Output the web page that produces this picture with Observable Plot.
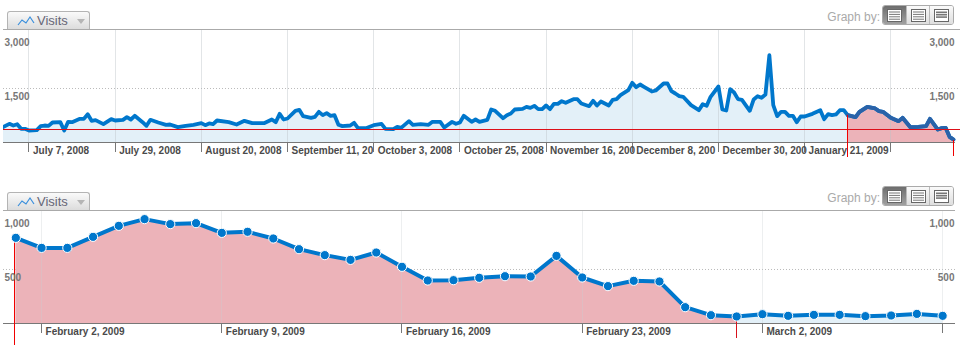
<!DOCTYPE html>
<html>
<head>
<meta charset="utf-8">
<script src="https://cdn.jsdelivr.net/npm/d3@7"></script>
<script src="https://cdn.jsdelivr.net/npm/@observablehq/plot@0.6"></script>
<style>
html,body{margin:0;padding:0;background:#fff;overflow:hidden}
body{font-family:"Liberation Sans",Arial,sans-serif}
.panel{position:relative;width:960px}
.panel svg.plot{display:block}
.tab{position:absolute;left:7px;top:11px;width:81px;height:17px;border:1px solid #b4b4b4;border-bottom:none;border-radius:3px 3px 0 0;background:linear-gradient(#fafafa,#dcdcdc);color:#667;font-size:13px;line-height:18px}
.tab span{position:absolute;left:29px;top:0}
.tab svg{position:absolute;left:9px;top:3px}
.tab i{position:absolute;left:69px;top:7px;width:0;height:0;border-left:4px solid transparent;border-right:4px solid transparent;border-top:5px solid #b5b5b5}
.gb{position:absolute;right:80px;top:9.5px;color:#aaa;font-size:12px;line-height:14px}
.btns{position:absolute;left:882px;top:5px;width:72px;height:20px;border:1px solid #aaa;border-radius:3px;display:flex;overflow:hidden;box-sizing:border-box}
.btns div{flex:1;border-left:1px solid #bbb;background:linear-gradient(#fafafa,#dedede);display:flex;align-items:center;justify-content:center}
.btns div:first-child{border-left:none;background:linear-gradient(#6d6d6d,#a0a0a0)}
.btns svg{display:block}
</style>
</head>
<body>
<div id="top" class="panel"></div>
<div id="bottom" class="panel"></div>
<script>
// Overview chart: [days since 30 June 2008, visits]
const topStart = Date.UTC(2008, 5, 30);
const topSeries = [
[0,407],[2,519],[3,472],[4,509],[5,380],[6,380],[7,333],[9,343],[10,454],[11,472],[12,463],[13,556],[15,565],[16,333],[17,574],[18,565],[20,657],[21,657],[22,787],[23,602],[24,620],[26,509],[28,648],[29,611],[31,630],[32,704],[33,639],[34,741],[36,565],[37,463],[38,630],[40,556],[42,491],[43,500],[45,426],[47,463],[49,491],[51,537],[52,482],[53,528],[54,509],[55,611],[58,565],[60,500],[62,602],[64,537],[67,537],[69,639],[70,565],[71,796],[72,639],[73,667],[75,880],[76,907],[77,732],[79,685],[80,713],[81,852],
[82,759],[83,815],[84,741],[85,759],[86,491],[87,454],[89,472],[90,546],[91,398],[93,398],[95,482],[97,519],[98,380],[100,370],[101,435],[102,407],[104,593],[105,491],[107,509],[109,491],[110,574],[112,574],[113,417],[115,574],[116,519],[117,556],[118,741],[120,574],[121,639],[122,574],[124,630],[125,917],[126,880],[128,676],[129,759],[130,806],[131,917],[133,935],[134,991],[135,963],[136,1019],[137,926],[138,926],[139,1028],[140,926],[141,1074],[142,1074],[143,1148],[144,1102],[146,1204],[147,1204],[148,1083],[150,1009],[151,1158],[152,1028],[153,1139],[155,1028],[156,1185],[157,1204],[158,1315],[160,1454],[161,1658],[162,1537],[163,1611],
[164,1546],[166,1417],[167,1445],[169,1639],[170,1639],[171,1426],[172,1361],[173,1287],[174,1269],[176,1037],[178,898],[179,1065],[180,1019],[181,1269],[183,1556],[184,917],[185,889],[186,1482],[187,1389],[188,1204],[189,1185],[191,880],[192,1195],[193,1287],[194,1241],[195,1333],[196,2426],[197,1037],[198,732],[199,852],[200,852],[201,741],[202,741],[203,565],[204,722],[205,722],[207,796],[209,898],[210,648],[211,787],[212,759],[213,778],[214,898],[215,898],[216,759],[218,704],[219,852],[221,991],[223,945],[224,870],[225,852],[227,685],[229,593],[230,685],[232,426],[234,435],[236,454],[237,657],[239,361],[240,398],[241,407],[242,157],[243,83]
];
const topTickDates = ["2008-07-07","2008-07-29","2008-08-20","2008-09-11","2008-10-03","2008-10-25","2008-11-16","2008-12-08","2008-12-30","2009-01-21","2009-02-12"];
const topTickLabels = ["July 7, 2008","July 29, 2008","August 20, 2008","September 11, 20","October 3, 2008","October 25, 2008","November 16, 200","December 8, 200","December 30, 200","January 21, 2009",""];
const topYTicks = [1500, 3000];
const topAverage = 361;

// Detail chart: daily visits from 1 February 2009
const detailStart = Date.UTC(2009, 1, 1);
const detailVisits = [793,700,700,802,904,966,920,929,839,849,787,688,633,589,657,525,398,401,423,438,435,626,426,346,395,389,151,77,65,86,71,80,80,68,74,89,71];
const detailTickDates = ["2009-02-02","2009-02-09","2009-02-16","2009-02-23","2009-03-02","2009-03-09"];
const detailTickLabels = ["February 2, 2009","February 9, 2009","February 16, 2009","February 23, 2009","March 2, 2009",""];
const detailYTicks = [500, 1000];

const DAY = 864e5, BLUE = "#0077cc", RED = "#ecb3b9", PALE = "#e3f0f8";
const topData = topSeries.map(([d, v]) => ({date: new Date(topStart + d * DAY), v}));
const detailData = detailVisits.map((v, i) => ({date: new Date(detailStart + i * DAY), v}));
const sel0 = new Date(Date.UTC(2009, 1, 1)), sel1 = new Date(Date.UTC(2009, 2, 1)), sel1Top = new Date(Date.UTC(2009, 1, 28));
const fmt = d3.format(",");
const crisp = {shapeRendering: "crispEdges"};

function yLabels(ticks, rightInset) {
  const common = {y: d => d, text: d => fmt(d), dy: 8.5, fontSize: 10, fontWeight: "bold", fill: "#777", fontFamily: "Liberation Sans, Arial, sans-serif"};
  return [
    Plot.text(ticks, {...common, frameAnchor: "left", textAnchor: "start", dx: 1}),
    Plot.text(ticks, {...common, frameAnchor: "right", textAnchor: "end", dx: -rightInset})
  ];
}
function xTicks(dates, labels, tickLen, gridColor) {
  const t = dates.map((d, i) => ({date: new Date(d + "T00:00:00Z"), label: labels[i]}));
  return {
    grid: Plot.ruleX(t, {x: "date", stroke: gridColor, strokeWidth: 1, ...crisp}),
    ticks: Plot.ruleX(t, {x: "date", y1: 0, y2: tickLen, stroke: "#777", strokeWidth: 1, ...crisp}),
    labels: Plot.text(t, {x: "date", y: 0, text: "label", dx: 4, dy: 8, textAnchor: "start", fontSize: 10, fontWeight: "bold", fill: "#4a4a4a", fontFamily: "Liberation Sans, Arial, sans-serif"})
  };
}

// ---- overview
const ot = xTicks(topTickDates, topTickLabels, -290, "rgba(185,192,198,0.42)");
const topPlot = Plot.plot({
  width: 960, height: 181, marginLeft: 3, marginRight: 0, marginTop: 29, marginBottom: 39,
  x: {type: "utc", axis: null, domain: [new Date(Date.UTC(2008,5,30,12)), new Date(Date.UTC(2009,2,1,19))]},
  y: {axis: null, domain: [0, 3139]},
  marks: [
    Plot.ruleY([1500], {stroke: "#bbb", strokeDasharray: "1,2"}),
    Plot.areaY(topData, {x: "date", y: "v", fill: PALE, clip: true}),
    Plot.areaY(topData.filter(d => d.date >= sel0), {x: "date", y: "v", fill: RED}),
    ot.grid,
    Plot.ruleY([3139], {stroke: "#aaa"}),
    Plot.ruleY([0], {x1: new Date(Date.UTC(2008,5,30,12)), x2: new Date(Date.UTC(2009,1,28,12)), stroke: "#777"}),
    ot.ticks, ot.labels,
    Plot.lineY(topData, {x: "date", y: "v", stroke: BLUE, strokeWidth: 3.8, clip: true}),
    Plot.lineY(topData.filter(d => d.date >= sel0), {x: "date", y: "v", stroke: "#2a62a8", strokeWidth: 3.8}),
    Plot.ruleY([topAverage], {stroke: "#dd0f18", strokeWidth: 1, ...crisp}),
    Plot.ruleX([sel0], {y1: 761, y2: -430, stroke: "#f00000", strokeWidth: 1, ...crisp}),
    Plot.ruleX([sel1Top], {y1: 65, y2: -380, stroke: "#f00000", strokeWidth: 1, ...crisp}),
    ...yLabels(topYTicks, 6)
  ]
});
topPlot.classList.add("plot");

// ---- detail
const dt = xTicks(detailTickDates, detailTickLabels, -97, "rgba(200,205,210,0.33)");
const redPart = detailData.filter(d => d.date <= sel1), palePart = detailData.filter(d => d.date >= sel1);
const bottomPlot = Plot.plot({
  width: 960, height: 171, marginLeft: 3, marginRight: 5, marginTop: 29, marginBottom: 29,
  x: {type: "utc", axis: null, domain: [new Date(Date.UTC(2009,0,31,12,30)), new Date(Date.UTC(2009,2,9,12))]},
  y: {axis: null, domain: [0, 1046]},
  marks: [
    Plot.ruleY([500], {stroke: "#bbb", strokeDasharray: "1,2"}),
    Plot.areaY(redPart, {x: "date", y: "v", fill: RED}),
    Plot.areaY(palePart, {x: "date", y: "v", fill: PALE}),
    dt.grid,
    Plot.ruleY([1046], {stroke: "#aaa"}),
    Plot.ruleY([0], {stroke: "#777"}),
    dt.ticks, dt.labels,
    Plot.ruleX([sel0], {y1: 793, y2: -200, dx: -1.3, stroke: "#f00000", strokeWidth: 1, ...crisp}),
    Plot.ruleX([sel1], {y1: 65, y2: -139, stroke: "#d8121c", strokeWidth: 1, ...crisp}),
    Plot.lineY(detailData, {x: "date", y: "v", stroke: BLUE, strokeWidth: 4}),
    Plot.dot(detailData, {x: "date", y: "v", r: 4.6, fill: BLUE, stroke: "#fff", strokeWidth: 1}),
    ...yLabels(detailYTicks, 1)
  ]
});
bottomPlot.classList.add("plot");

// ---- header controls
function rows(n, dark) {
  let s = `<svg width="15" height="13"><rect x=".5" y=".5" width="14" height="12" fill="#fff" stroke="#666"/>`;
  for (let i = 0; i < n; i++) s += `<rect x="2" y="${2.5 + i * 2.4}" width="11" height="${dark ? 1.6 : 1}" fill="#777"/>`;
  return s + `</svg>`;
}
function header() {
  return `<div class="tab"><svg width="18" height="12"><polyline points="1,10 5,5 9,8 13,2 17,8" fill="none" stroke="#3a8fdc" stroke-width="1.2"/></svg><span>Visits</span><i></i></div>
  <div class="gb">Graph by:</div>
  <div class="btns"><div>${rows(4,false)}</div><div>${rows(4,false)}</div><div>${rows(3,true)}</div></div>`;
}
const topEl = document.getElementById("top"), botEl = document.getElementById("bottom");
topEl.append(topPlot); topEl.insertAdjacentHTML("beforeend", header());
botEl.append(bottomPlot); botEl.insertAdjacentHTML("beforeend", header());
</script>
</body>
</html>
